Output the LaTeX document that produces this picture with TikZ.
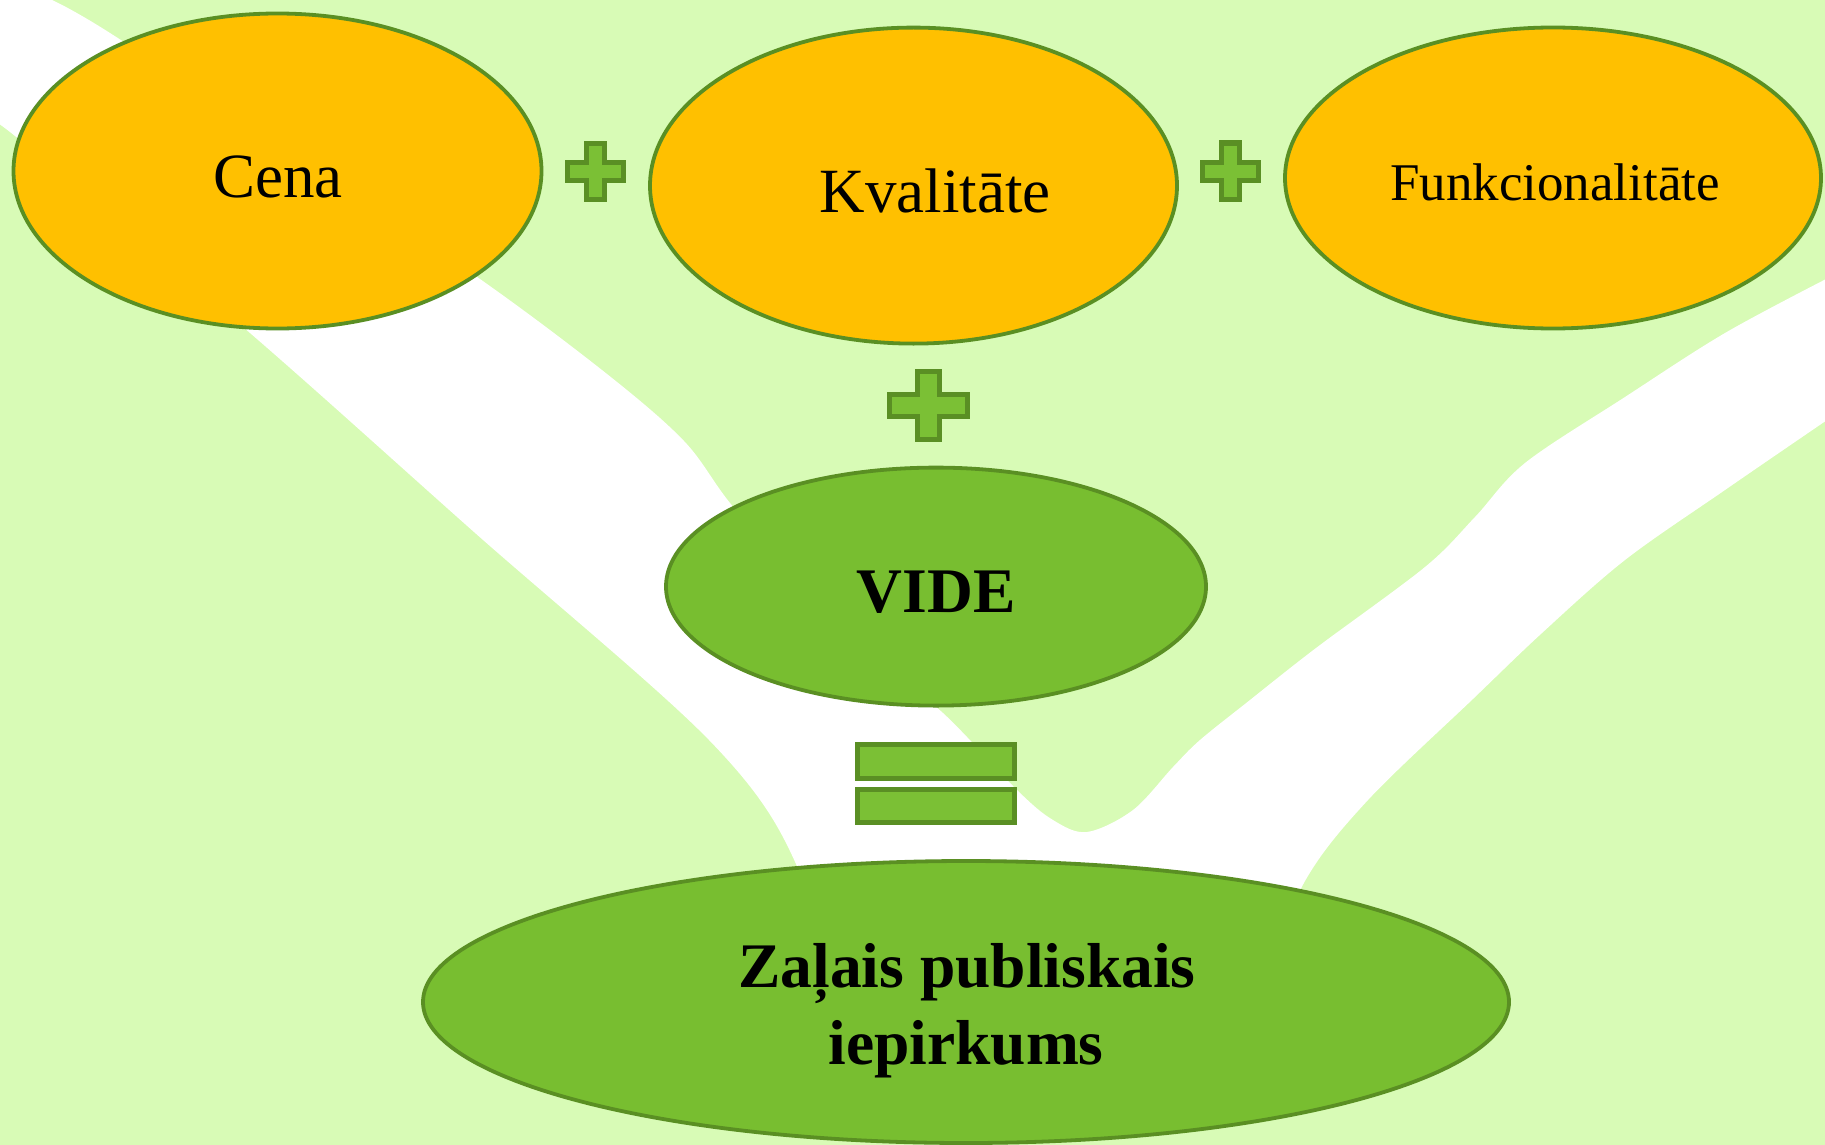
\documentclass[tikz,border=0pt]{standalone}
\usepackage{fontspec}
\setmainfont{Liberation Serif}
\usetikzlibrary{shapes.geometric}
\definecolor{bgc}{HTML}{D8FBB6}
\definecolor{orangefill}{HTML}{FFC000}
\definecolor{greenfill}{HTML}{78BE30}
\definecolor{greenline}{HTML}{5A8F23}
\definecolor{signfill}{HTML}{7BC035}
\definecolor{signline}{HTML}{5A8F24}
\newcommand\drawplussign[5]{%
  \filldraw[signshape] ({#1-#5},{#2-#4}) -- ({#1+#5},{#2-#4}) -- ({#1+#5},{#2-#5}) -- ({#1+#3},{#2-#5})
   -- ({#1+#3},{#2+#5}) -- ({#1+#5},{#2+#5}) -- ({#1+#5},{#2+#4}) -- ({#1-#5},{#2+#4})
   -- ({#1-#5},{#2+#5}) -- ({#1-#3},{#2+#5}) -- ({#1-#3},{#2-#5}) -- ({#1-#5},{#2-#5}) -- cycle;}
\begin{document}
\begin{tikzpicture}[x=0.5pt,y=-0.5pt,
  oval/.style={ellipse, draw=greenline, line width=1.9pt, inner sep=0pt},
  orangeoval/.style={oval, fill=orangefill},
  greenoval/.style={oval, fill=greenfill},
  lbl/.style={anchor=base, inner sep=0pt, font=\fontsize{31.5}{38}\selectfont},
  smalllbl/.style={anchor=base, inner sep=0pt, font=\fontsize{26.5}{32}\selectfont},
  boldlbl/.style={anchor=base, inner sep=0pt, font=\fontsize{31.75}{38}\selectfont\bfseries},
  signshape/.style={fill=signfill, draw=signline, line width=2.5pt, line join=miter}]
\useasboundingbox (0,0) rectangle (1825,1145);
\fill[bgc] (0,0) rectangle (1825,1145);
% white tree-like band
\fill[white] (-5,-5) -- (52,-5) -- plot[smooth, tension=0.55] coordinates {(52,0) (110,33) (300,158) (480,279) (607,374) (684,441) (730,503) (800,585) (870,655) (943,713) (1017,790) (1053,820) (1087,832) (1133,810) (1173,767) (1200,740) (1250,700) (1316,648) (1425,567) (1475,517) (1525,463) (1625,397) (1725,333) (1830,277)}
  -- (1830,418) -- plot[smooth, tension=0.55] coordinates {(1830,418) (1725,490) (1625,560) (1542,633) (1474,698) (1368,800) (1305,881) (1260,990)}
  -- (1260,1010) -- (830,1010) -- plot[smooth, tension=0.55] coordinates {(830,1010) (796,864) (709,740) (474,532) (250,333) (20,140) (-5,125)} -- cycle;
% ovals
\node[orangeoval, minimum width=264pt, minimum height=157.5pt] (cena) at (277.5,171) {};
\node[orangeoval, minimum width=263.5pt, minimum height=158pt] (kval) at (913.5,185.6) {};
\node[orangeoval, minimum width=268pt, minimum height=150.5pt] (funk) at (1553,178) {};
\node[greenoval, minimum width=270pt, minimum height=119pt] (vide) at (936,586.6) {};
\node[greenoval, minimum width=543pt, minimum height=141pt] (zpi) at (966,1002) {};
% labels
\node[lbl] (tcena) at (278,198) {Cena};
\node[lbl] (tkval) at (935,212) {Kvalitāte};
\node[smalllbl] (tfunk) at (1555,200) {Funkcionalitāte};
\node[boldlbl] (tvide) at (936,612) {VIDE};
\node[boldlbl] (tzpi1) at (967,987) {Zaļais publiskais};
\node[boldlbl] (tzpi2) at (966,1064) {iepirkums};
% plus signs
\drawplussign{595.5}{171.5}{28}{28}{9}
\drawplussign{1230}{171}{28}{28}{9}
\drawplussign{928.5}{405.5}{39}{34}{11}
% equals sign
\filldraw[signshape] (857.5,744.5) rectangle (1014.5,778.5);
\filldraw[signshape] (857.5,789.5) rectangle (1014.5,822.5);
\end{tikzpicture}
\end{document}
